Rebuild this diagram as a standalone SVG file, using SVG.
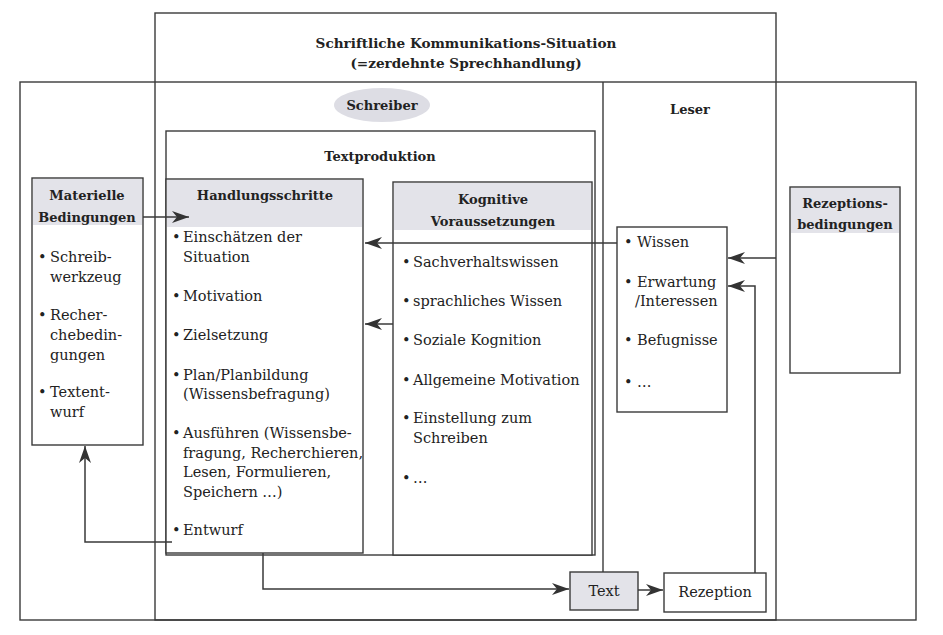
<svg xmlns="http://www.w3.org/2000/svg" width="943" height="635" viewBox="0 0 943 635">
<style>
text{font-family:"DejaVu Serif","Liberation Serif",serif;fill:#222;}
.t{font-size:14.5px;}
.h{font-size:13px;font-weight:bold;}
.ti{font-size:13.6px;font-weight:bold;}
.c{text-anchor:middle;}
.fr{fill:none;stroke:#3a3a3a;stroke-width:1.4;}
.bx{fill:#fff;stroke:#3a3a3a;stroke-width:1.4;}
.hd{fill:#e3e3e9;}
.cn{fill:none;stroke:#3a3a3a;stroke-width:1.5;}
.ar{marker-end:url(#ah);}
</style>
<defs>
<marker id="ah" markerUnits="userSpaceOnUse" markerWidth="18" markerHeight="12" refX="17" refY="6" orient="auto">
<path d="M0,0 L17,6 L0,12 L5,6 Z" fill="#333"/>
</marker>
</defs>
<rect width="943" height="635" fill="#fff"/>
<g id="frames">
<rect class="fr" x="155" y="13" width="621" height="607"/>
<rect class="fr" x="20" y="82" width="896" height="538"/>
<line class="fr" x1="603" y1="82" x2="603" y2="572"/>
<text class="ti c" x="466" y="48">Schriftliche Kommunikations-Situation</text>
<text class="ti c" x="466" y="68">(=zerdehnte Sprechhandlung)</text>
</g>
<g id="schreiber">
<ellipse cx="382" cy="105" rx="48" ry="17" fill="#dddde4"/>
<text class="h c" x="382" y="110">Schreiber</text>
</g>
<g id="leser">
<text class="h c" x="690" y="114">Leser</text>
</g>
<g id="textproduktion">
<rect class="bx" x="166" y="131" width="429" height="424"/>
<text class="h c" x="380" y="161">Textproduktion</text>
</g>
<g id="materielle">
<rect class="bx" x="32" y="178" width="111" height="267"/>
<rect class="hd" x="33" y="179" width="109" height="46"/>
<text class="h c" x="87" y="200">Materielle</text>
<text class="h c" x="87" y="222">Bedingungen</text>
<text class="t"><tspan x="38" y="262">•</tspan><tspan x="50" y="262">Schreib-</tspan><tspan x="50" y="282">werkzeug</tspan>
<tspan x="38" y="320">•</tspan><tspan x="50" y="320">Recher-</tspan><tspan x="50" y="340">chebedin-</tspan><tspan x="50" y="360">gungen</tspan>
<tspan x="38" y="397">•</tspan><tspan x="50" y="397">Textent-</tspan><tspan x="50" y="417">wurf</tspan></text>
</g>
<g id="handlungsschritte">
<rect class="bx" x="166" y="179" width="197" height="374"/>
<rect class="hd" x="167" y="180" width="195" height="47"/>
<text class="h c" x="265" y="200">Handlungsschritte</text>
<text class="t"><tspan x="172" y="242">•</tspan><tspan x="183" y="242">Einschätzen der</tspan><tspan x="183" y="262">Situation</tspan>
<tspan x="172" y="301">•</tspan><tspan x="183" y="301">Motivation</tspan>
<tspan x="172" y="340">•</tspan><tspan x="183" y="340">Zielsetzung</tspan>
<tspan x="172" y="380">•</tspan><tspan x="183" y="380">Plan/Planbildung</tspan><tspan x="183" y="399">(Wissensbefragung)</tspan>
<tspan x="172" y="438">•</tspan><tspan x="183" y="438">Ausführen (Wissensbe-</tspan><tspan x="183" y="458">fragung, Recherchieren,</tspan><tspan x="183" y="477">Lesen, Formulieren,</tspan><tspan x="183" y="497">Speichern …)</tspan>
<tspan x="172" y="535">•</tspan><tspan x="183" y="535">Entwurf</tspan></text>
</g>
<g id="kognitive">
<rect class="bx" x="393" y="182" width="199" height="373"/>
<rect class="hd" x="394" y="183" width="197" height="47"/>
<text class="h c" x="493" y="204">Kognitive</text>
<text class="h c" x="493" y="226">Voraussetzungen</text>
<text class="t"><tspan x="402" y="267">•</tspan><tspan x="413" y="267">Sachverhaltswissen</tspan>
<tspan x="402" y="306">•</tspan><tspan x="413" y="306">sprachliches Wissen</tspan>
<tspan x="402" y="345">•</tspan><tspan x="413" y="345">Soziale Kognition</tspan>
<tspan x="402" y="385">•</tspan><tspan x="413" y="385">Allgemeine Motivation</tspan>
<tspan x="402" y="423">•</tspan><tspan x="413" y="423">Einstellung zum</tspan><tspan x="413" y="443">Schreiben</tspan>
<tspan x="402" y="483">•</tspan><tspan x="413" y="483">…</tspan></text>
</g>
<g id="wissen">
<rect class="bx" x="617" y="227" width="110" height="185"/>
<text class="t"><tspan x="624" y="247">•</tspan><tspan x="637" y="247">Wissen</tspan>
<tspan x="624" y="287">•</tspan><tspan x="637" y="287">Erwartung</tspan><tspan x="635" y="306">/Interessen</tspan>
<tspan x="624" y="345">•</tspan><tspan x="637" y="345">Befugnisse</tspan>
<tspan x="624" y="387">•</tspan><tspan x="637" y="387">…</tspan></text>
</g>
<g id="rezeptionsbedingungen">
<rect class="bx" x="790" y="187" width="110" height="186"/>
<rect class="hd" x="791" y="188" width="108" height="45"/>
<text class="h c" x="845" y="208">Rezeptions-</text>
<text class="h c" x="845" y="229">bedingungen</text>
</g>
<g id="text">
<rect x="570" y="572" width="68" height="38" fill="#e3e3e9" stroke="#3a3a3a" stroke-width="1.4"/>
<text class="t c" x="604" y="596">Text</text>
</g>
<g id="rezeption">
<rect class="bx" x="664" y="573" width="102" height="39"/>
<text class="t c" x="715" y="597">Rezeption</text>
</g>
<g id="connectors">
<line class="cn ar" x1="143" y1="217" x2="189" y2="217"/>
<line class="cn ar" x1="617" y1="243" x2="365" y2="243"/>
<line class="cn ar" x1="393" y1="324" x2="365" y2="324"/>
<line class="cn ar" x1="776" y1="258" x2="728" y2="258"/>
<polyline class="cn ar" points="755,573 755,286 728,286"/>
<polyline class="cn ar" points="172,542 85,542 85,446"/>
<polyline class="cn ar" points="263,553 263,589 569,589"/>
<line class="cn ar" x1="638" y1="590" x2="663" y2="590"/>
</g>
</svg>
